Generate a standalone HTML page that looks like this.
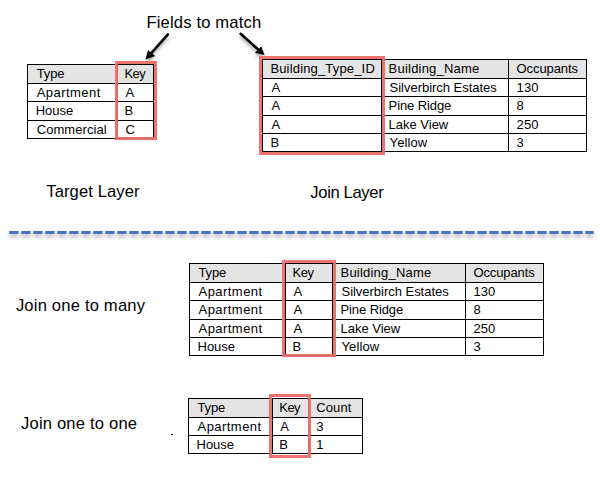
<!DOCTYPE html>
<html><head><meta charset="utf-8"><style>
html,body{margin:0;padding:0;background:#fff;}
body{width:600px;height:477px;position:relative;overflow:hidden;}
.t{position:absolute;font-family:"Liberation Sans",sans-serif;color:#000;white-space:nowrap;}
</style></head><body>
<svg width="600" height="477" style="position:absolute;left:0;top:0">
<defs>
<filter id="sh" x="-5%" y="-200%" width="110%" height="500%"><feGaussianBlur in="SourceAlpha" stdDeviation="2.1"/><feOffset dx="0" dy="3.3" result="b"/><feComponentTransfer in="b" result="c"><feFuncA type="linear" slope="0.35"/></feComponentTransfer><feMerge><feMergeNode in="c"/><feMergeNode in="SourceGraphic"/></feMerge></filter>
<filter id="sh2" x="-50%" y="-50%" width="200%" height="200%"><feGaussianBlur in="SourceAlpha" stdDeviation="1.5"/><feOffset dx="0" dy="2.5" result="b"/><feComponentTransfer in="b" result="c"><feFuncA type="linear" slope="0.3"/></feComponentTransfer><feMerge><feMergeNode in="c"/><feMergeNode in="SourceGraphic"/></feMerge></filter>
</defs>
<g fill="#4472c4" filter="url(#sh)"><rect x="9.20" y="231" width="9.40" height="3"/><rect x="21.20" y="231" width="9.40" height="3"/><rect x="33.21" y="231" width="9.40" height="3"/><rect x="45.21" y="231" width="9.40" height="3"/><rect x="57.21" y="231" width="9.40" height="3"/><rect x="69.22" y="231" width="9.40" height="3"/><rect x="81.22" y="231" width="9.40" height="3"/><rect x="93.22" y="231" width="9.40" height="3"/><rect x="105.22" y="231" width="9.40" height="3"/><rect x="117.23" y="231" width="9.40" height="3"/><rect x="129.23" y="231" width="9.40" height="3"/><rect x="141.23" y="231" width="9.40" height="3"/><rect x="153.24" y="231" width="9.40" height="3"/><rect x="165.24" y="231" width="9.40" height="3"/><rect x="177.24" y="231" width="9.40" height="3"/><rect x="189.24" y="231" width="9.40" height="3"/><rect x="201.25" y="231" width="9.40" height="3"/><rect x="213.25" y="231" width="9.40" height="3"/><rect x="225.25" y="231" width="9.40" height="3"/><rect x="237.26" y="231" width="9.40" height="3"/><rect x="249.26" y="231" width="9.40" height="3"/><rect x="261.26" y="231" width="9.40" height="3"/><rect x="273.27" y="231" width="9.40" height="3"/><rect x="285.27" y="231" width="9.40" height="3"/><rect x="297.27" y="231" width="9.40" height="3"/><rect x="309.27" y="231" width="9.40" height="3"/><rect x="321.28" y="231" width="9.40" height="3"/><rect x="333.28" y="231" width="9.40" height="3"/><rect x="345.28" y="231" width="9.40" height="3"/><rect x="357.29" y="231" width="9.40" height="3"/><rect x="369.29" y="231" width="9.40" height="3"/><rect x="381.29" y="231" width="9.40" height="3"/><rect x="393.30" y="231" width="9.40" height="3"/><rect x="405.30" y="231" width="9.40" height="3"/><rect x="417.30" y="231" width="9.40" height="3"/><rect x="429.30" y="231" width="9.40" height="3"/><rect x="441.31" y="231" width="9.40" height="3"/><rect x="453.31" y="231" width="9.40" height="3"/><rect x="465.31" y="231" width="9.40" height="3"/><rect x="477.32" y="231" width="9.40" height="3"/><rect x="489.32" y="231" width="9.40" height="3"/><rect x="501.32" y="231" width="9.40" height="3"/><rect x="513.33" y="231" width="9.40" height="3"/><rect x="525.33" y="231" width="9.40" height="3"/><rect x="537.33" y="231" width="9.40" height="3"/><rect x="549.33" y="231" width="9.40" height="3"/><rect x="561.34" y="231" width="9.40" height="3"/><rect x="573.34" y="231" width="9.40" height="3"/><rect x="585.34" y="231" width="8.36" height="3"/></g>
<g filter="url(#sh2)">
<line x1="167.9" y1="34.4" x2="151.3" y2="53.2" stroke="#000" stroke-width="2.6" stroke-linecap="round"/>
<polygon points="145.5,59.5 148.0,50.0 155.1,56.1" fill="#000"/>
<line x1="240.6" y1="33.8" x2="258.4" y2="49.8" stroke="#000" stroke-width="2.6" stroke-linecap="round"/>
<polygon points="264.5,55.1 254.8,52.7 261.3,46.4" fill="#000"/>
</g>
</svg>
<div style="position:absolute;left:28px;top:65px;width:125px;height:18px;background:#e4e4e4"></div><div style="position:absolute;left:27px;top:64px;width:127px;height:1px;background:#000"></div><div style="position:absolute;left:27px;top:83px;width:127px;height:1px;background:#000"></div><div style="position:absolute;left:27px;top:101px;width:127px;height:1px;background:#000"></div><div style="position:absolute;left:27px;top:120px;width:127px;height:1px;background:#000"></div><div style="position:absolute;left:27px;top:138px;width:127px;height:1px;background:#000"></div><div style="position:absolute;left:27px;top:64px;width:1px;height:75px;background:#000"></div><div style="position:absolute;left:117px;top:64px;width:1px;height:75px;background:#000"></div><div style="position:absolute;left:153px;top:64px;width:1px;height:75px;background:#000"></div><div style="position:absolute;left:115px;top:61px;width:36px;height:73px;border:3px solid rgba(236,108,102,0.95)"></div><div style="position:absolute;left:263px;top:60px;width:323px;height:18px;background:#e4e4e4"></div><div style="position:absolute;left:262px;top:59px;width:325px;height:1px;background:#000"></div><div style="position:absolute;left:262px;top:78px;width:325px;height:1px;background:#000"></div><div style="position:absolute;left:262px;top:96px;width:325px;height:1px;background:#000"></div><div style="position:absolute;left:262px;top:115px;width:325px;height:1px;background:#000"></div><div style="position:absolute;left:262px;top:133px;width:325px;height:1px;background:#000"></div><div style="position:absolute;left:262px;top:151px;width:325px;height:1px;background:#000"></div><div style="position:absolute;left:262px;top:59px;width:1px;height:93px;background:#000"></div><div style="position:absolute;left:381px;top:59px;width:1px;height:93px;background:#000"></div><div style="position:absolute;left:508px;top:59px;width:1px;height:93px;background:#000"></div><div style="position:absolute;left:586px;top:59px;width:1px;height:93px;background:#000"></div><div style="position:absolute;left:259px;top:56px;width:120px;height:93px;border:3px solid rgba(236,108,102,0.95)"></div><div style="position:absolute;left:190px;top:264px;width:353px;height:18px;background:#e4e4e4"></div><div style="position:absolute;left:189px;top:263px;width:355px;height:1px;background:#000"></div><div style="position:absolute;left:189px;top:282px;width:355px;height:1px;background:#000"></div><div style="position:absolute;left:189px;top:300px;width:355px;height:1px;background:#000"></div><div style="position:absolute;left:189px;top:319px;width:355px;height:1px;background:#000"></div><div style="position:absolute;left:189px;top:337px;width:355px;height:1px;background:#000"></div><div style="position:absolute;left:189px;top:355px;width:355px;height:1px;background:#000"></div><div style="position:absolute;left:189px;top:263px;width:1px;height:93px;background:#000"></div><div style="position:absolute;left:285px;top:263px;width:1px;height:93px;background:#000"></div><div style="position:absolute;left:332px;top:263px;width:1px;height:93px;background:#000"></div><div style="position:absolute;left:465px;top:263px;width:1px;height:93px;background:#000"></div><div style="position:absolute;left:543px;top:263px;width:1px;height:93px;background:#000"></div><div style="position:absolute;left:282px;top:260px;width:48px;height:91px;border:3px solid rgba(236,108,102,0.95)"></div><div style="position:absolute;left:189px;top:399px;width:173px;height:18px;background:#e4e4e4"></div><div style="position:absolute;left:188px;top:398px;width:175px;height:1px;background:#000"></div><div style="position:absolute;left:188px;top:417px;width:175px;height:1px;background:#000"></div><div style="position:absolute;left:188px;top:435px;width:175px;height:1px;background:#000"></div><div style="position:absolute;left:188px;top:453px;width:175px;height:1px;background:#000"></div><div style="position:absolute;left:188px;top:398px;width:1px;height:56px;background:#000"></div><div style="position:absolute;left:272px;top:398px;width:1px;height:56px;background:#000"></div><div style="position:absolute;left:308px;top:398px;width:1px;height:56px;background:#000"></div><div style="position:absolute;left:362px;top:398px;width:1px;height:56px;background:#000"></div><div style="position:absolute;left:269px;top:394px;width:36px;height:58px;border:3px solid rgba(236,108,102,0.95)"></div><div class="t" style="left:36.70px;top:66.70px;font-size:13px;line-height:13px;letter-spacing:-0.118px">Type</div><div class="t" style="left:124.40px;top:66.70px;font-size:13px;line-height:13px;letter-spacing:-0.550px">Key</div><div class="t" style="left:36.70px;top:85.70px;font-size:13px;line-height:13px;letter-spacing:0.455px">Apartment</div><div class="t" style="left:125.40px;top:85.70px;font-size:13px;line-height:13px;letter-spacing:0.000px">A</div><div class="t" style="left:35.70px;top:103.70px;font-size:13px;line-height:13px;letter-spacing:-0.012px">House</div><div class="t" style="left:124.40px;top:103.70px;font-size:13px;line-height:13px;letter-spacing:0.000px">B</div><div class="t" style="left:36.70px;top:122.70px;font-size:13px;line-height:13px;letter-spacing:0.061px">Commercial</div><div class="t" style="left:125.40px;top:122.70px;font-size:13px;line-height:13px;letter-spacing:0.000px">C</div><div class="t" style="left:270.40px;top:61.70px;font-size:13px;line-height:13px;letter-spacing:0.166px">Building_Type_ID</div><div class="t" style="left:388.60px;top:61.70px;font-size:13px;line-height:13px;letter-spacing:0.214px">Building_Name</div><div class="t" style="left:516.60px;top:61.70px;font-size:13px;line-height:13px;letter-spacing:-0.105px">Occupants</div><div class="t" style="left:271.40px;top:80.70px;font-size:13px;line-height:13px;letter-spacing:0.000px">A</div><div class="t" style="left:389.60px;top:80.70px;font-size:13px;line-height:13px;letter-spacing:-0.025px">Silverbirch Estates</div><div class="t" style="left:516.60px;top:80.70px;font-size:13px;line-height:13px;letter-spacing:0.070px">130</div><div class="t" style="left:271.40px;top:98.70px;font-size:13px;line-height:13px;letter-spacing:0.000px">A</div><div class="t" style="left:388.60px;top:98.70px;font-size:13px;line-height:13px;letter-spacing:-0.096px">Pine Ridge</div><div class="t" style="left:516.60px;top:98.70px;font-size:13px;line-height:13px;letter-spacing:0.000px">8</div><div class="t" style="left:271.40px;top:117.70px;font-size:13px;line-height:13px;letter-spacing:0.000px">A</div><div class="t" style="left:388.60px;top:117.70px;font-size:13px;line-height:13px;letter-spacing:-0.013px">Lake View</div><div class="t" style="left:516.60px;top:117.70px;font-size:13px;line-height:13px;letter-spacing:0.070px">250</div><div class="t" style="left:270.40px;top:135.70px;font-size:13px;line-height:13px;letter-spacing:0.000px">B</div><div class="t" style="left:389.60px;top:135.70px;font-size:13px;line-height:13px;letter-spacing:0.107px">Yellow</div><div class="t" style="left:516.60px;top:135.70px;font-size:13px;line-height:13px;letter-spacing:0.000px">3</div><div class="t" style="left:198.50px;top:265.70px;font-size:13px;line-height:13px;letter-spacing:-0.118px">Type</div><div class="t" style="left:292.60px;top:265.70px;font-size:13px;line-height:13px;letter-spacing:-0.550px">Key</div><div class="t" style="left:340.50px;top:265.70px;font-size:13px;line-height:13px;letter-spacing:0.214px">Building_Name</div><div class="t" style="left:473.40px;top:265.70px;font-size:13px;line-height:13px;letter-spacing:-0.105px">Occupants</div><div class="t" style="left:198.50px;top:284.70px;font-size:13px;line-height:13px;letter-spacing:0.455px">Apartment</div><div class="t" style="left:293.60px;top:284.70px;font-size:13px;line-height:13px;letter-spacing:0.000px">A</div><div class="t" style="left:341.50px;top:284.70px;font-size:13px;line-height:13px;letter-spacing:-0.025px">Silverbirch Estates</div><div class="t" style="left:473.40px;top:284.70px;font-size:13px;line-height:13px;letter-spacing:0.070px">130</div><div class="t" style="left:198.50px;top:302.70px;font-size:13px;line-height:13px;letter-spacing:0.455px">Apartment</div><div class="t" style="left:293.60px;top:302.70px;font-size:13px;line-height:13px;letter-spacing:0.000px">A</div><div class="t" style="left:340.50px;top:302.70px;font-size:13px;line-height:13px;letter-spacing:-0.096px">Pine Ridge</div><div class="t" style="left:473.40px;top:302.70px;font-size:13px;line-height:13px;letter-spacing:0.000px">8</div><div class="t" style="left:198.50px;top:321.70px;font-size:13px;line-height:13px;letter-spacing:0.455px">Apartment</div><div class="t" style="left:293.60px;top:321.70px;font-size:13px;line-height:13px;letter-spacing:0.000px">A</div><div class="t" style="left:340.50px;top:321.70px;font-size:13px;line-height:13px;letter-spacing:-0.013px">Lake View</div><div class="t" style="left:473.40px;top:321.70px;font-size:13px;line-height:13px;letter-spacing:0.070px">250</div><div class="t" style="left:197.50px;top:339.70px;font-size:13px;line-height:13px;letter-spacing:-0.012px">House</div><div class="t" style="left:292.60px;top:339.70px;font-size:13px;line-height:13px;letter-spacing:0.000px">B</div><div class="t" style="left:341.50px;top:339.70px;font-size:13px;line-height:13px;letter-spacing:0.107px">Yellow</div><div class="t" style="left:473.40px;top:339.70px;font-size:13px;line-height:13px;letter-spacing:0.000px">3</div><div class="t" style="left:197.50px;top:400.70px;font-size:13px;line-height:13px;letter-spacing:-0.118px">Type</div><div class="t" style="left:279.30px;top:400.70px;font-size:13px;line-height:13px;letter-spacing:-0.550px">Key</div><div class="t" style="left:316.30px;top:400.70px;font-size:13px;line-height:13px;letter-spacing:0.080px">Count</div><div class="t" style="left:197.50px;top:419.70px;font-size:13px;line-height:13px;letter-spacing:0.455px">Apartment</div><div class="t" style="left:280.30px;top:419.70px;font-size:13px;line-height:13px;letter-spacing:0.000px">A</div><div class="t" style="left:316.30px;top:419.70px;font-size:13px;line-height:13px;letter-spacing:0.000px">3</div><div class="t" style="left:196.50px;top:437.70px;font-size:13px;line-height:13px;letter-spacing:-0.012px">House</div><div class="t" style="left:279.30px;top:437.70px;font-size:13px;line-height:13px;letter-spacing:0.000px">B</div><div class="t" style="left:316.30px;top:437.70px;font-size:13px;line-height:13px;letter-spacing:0.000px">1</div><div class="t" style="left:146.40px;top:14.85px;font-size:16.6px;line-height:16.6px;letter-spacing:0.166px">Fields to match</div><div class="t" style="left:46.30px;top:183.65px;font-size:16.6px;line-height:16.6px;letter-spacing:0.090px">Target Layer</div><div class="t" style="left:310.30px;top:184.95px;font-size:16.6px;line-height:16.6px;letter-spacing:-0.348px">Join Layer</div><div class="t" style="left:15.90px;top:297.65px;font-size:16.6px;line-height:16.6px;letter-spacing:0.182px">Join one to many</div><div class="t" style="left:21.00px;top:415.85px;font-size:16.6px;line-height:16.6px;letter-spacing:0.182px">Join one to one</div><div style="position:absolute;left:171px;top:434px;width:2px;height:1px;background:#000"></div>
</body></html>
